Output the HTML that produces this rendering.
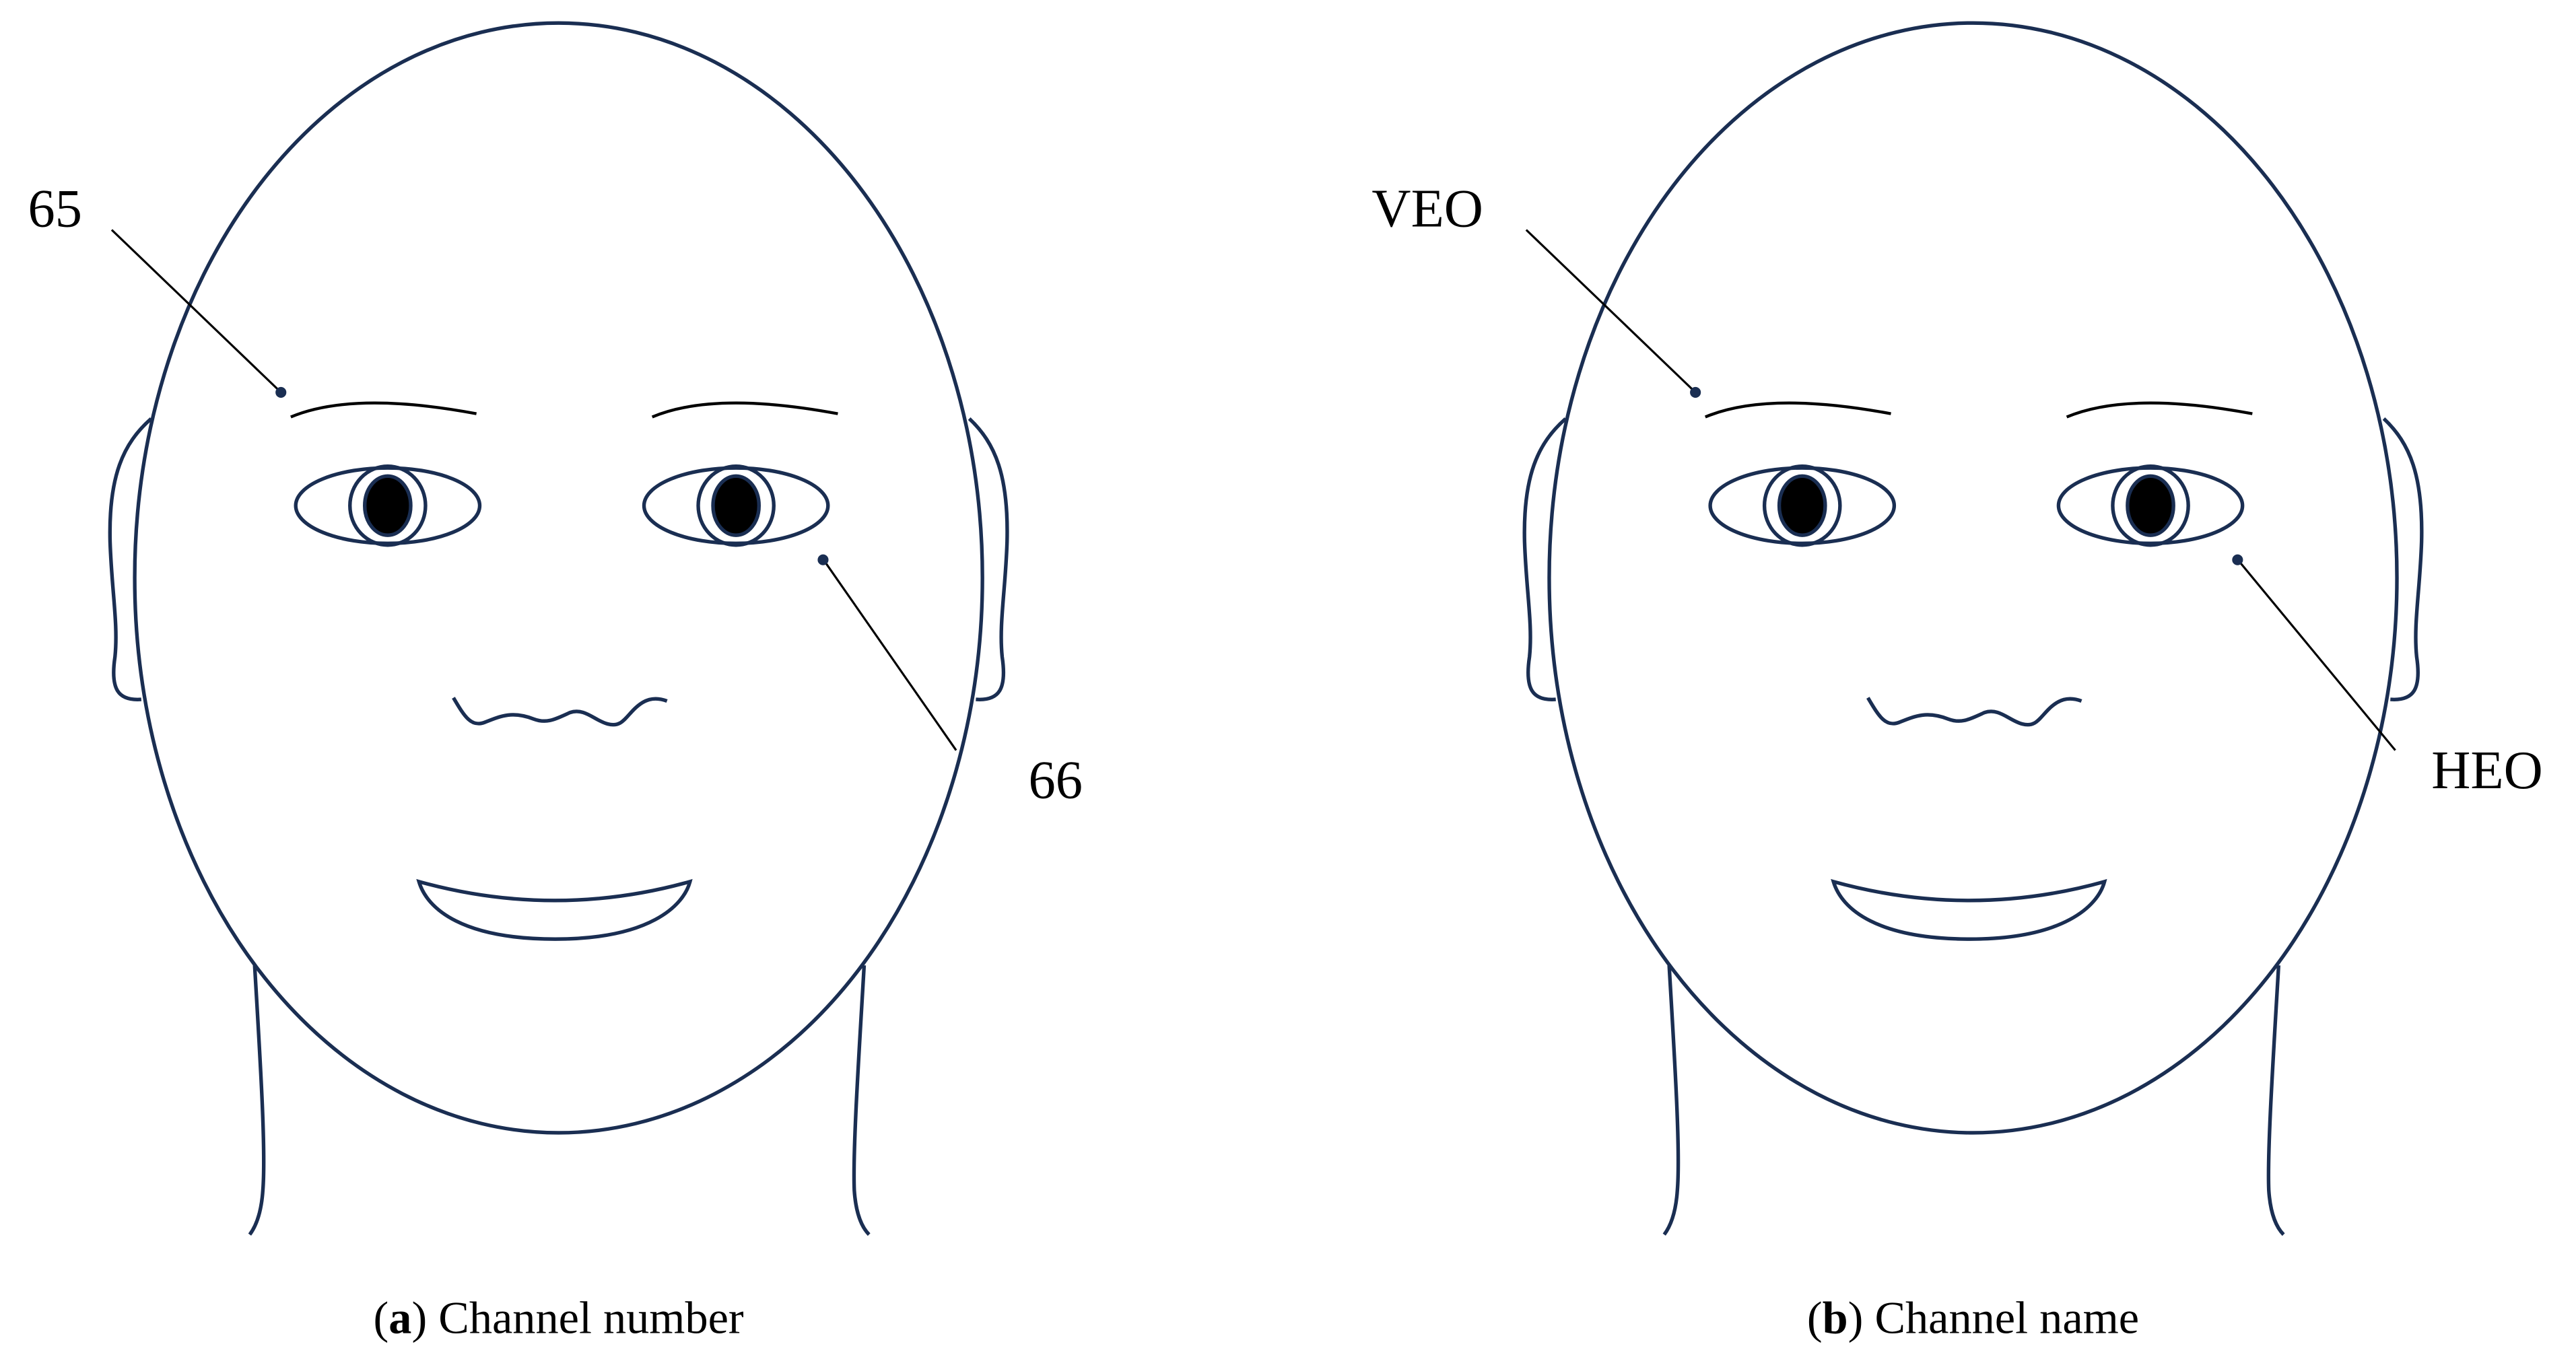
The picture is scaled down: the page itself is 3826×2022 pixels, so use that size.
<!DOCTYPE html>
<html><head><meta charset="utf-8"><style>
html,body{margin:0;padding:0;background:#fff;}
svg{display:block;}
text{font-family:"Liberation Serif",serif;fill:#000;}
</style></head><body>
<svg width="3826" height="2022" viewBox="0 0 1568 829" preserveAspectRatio="none" xmlns="http://www.w3.org/2000/svg">
<defs>
<g id="face" fill="none" stroke="#1a2e52" stroke-width="2.2">
  <path d="M92,255 C75,270 66,290 67,330 C68,360 72,380 70,400 C67,420 72,427 86,426"/>
  <path d="M590,255 C606,270 614,290 613,330 C612,360 608,380 610,400 C613,420 608,427 594,426"/>
  <path d="M155,588 C158,640 162,700 160,725 C159,740 155,748 152,752"/>
  <path d="M526,588 C523,640 519,700 520,725 C521,740 525,748 529,752"/>
  <ellipse cx="340" cy="352" rx="258" ry="338" fill="#fff"/>
  <path d="M177,254 Q215,238 290,252" stroke="#000" stroke-width="1.8"/>
  <path d="M397,254 Q435,238 510,252" stroke="#000" stroke-width="1.8"/>
  <ellipse cx="236" cy="308" rx="56" ry="23"/>
  <ellipse cx="236" cy="308" rx="23" ry="24"/>
  <ellipse cx="236" cy="308" rx="14" ry="18" fill="#000"/>
  <ellipse cx="448" cy="308" rx="56" ry="23"/>
  <ellipse cx="448" cy="308" rx="23" ry="24"/>
  <ellipse cx="448" cy="308" rx="14" ry="18" fill="#000"/>
  <path d="M276,425 C283,437 287,443 295,440 C305,436 312,433 325,438 C333,441 338,438 347,434 C356,431 362,439 370,441 C378,443 380,438 386,432 C392,426 398,424 406,427"/>
  <path d="M255,537 Q338,560 420,537 C416,552 395,572 338,572 C282,572 260,554 255,537 Z"/>
</g>
</defs>
<use href="#face"/>
<use href="#face" transform="translate(861,0)"/>
<line x1="68" y1="140" x2="170" y2="238" stroke="#000" stroke-width="1.3"/>
<circle cx="171" cy="239" r="3.3" fill="#1a2e52"/>
<text x="17" y="138" font-size="33">65</text>
<line x1="502" y1="342" x2="582" y2="457" stroke="#000" stroke-width="1.3"/>
<circle cx="501" cy="341" r="3.3" fill="#1a2e52"/>
<text x="626" y="486" font-size="33">66</text>
<text x="340" y="812" font-size="28" text-anchor="middle">(<tspan font-weight="bold">a</tspan>) Channel number</text>
<line x1="929" y1="140" x2="1031" y2="238" stroke="#000" stroke-width="1.3"/>
<circle cx="1032" cy="239" r="3.3" fill="#1a2e52"/>
<text x="835" y="138" font-size="33">VEO</text>
<line x1="1363" y1="342" x2="1458" y2="457" stroke="#000" stroke-width="1.3"/>
<circle cx="1362" cy="341" r="3.3" fill="#1a2e52"/>
<text x="1480" y="480" font-size="33">HEO</text>
<text x="1201" y="812" font-size="28" text-anchor="middle">(<tspan font-weight="bold">b</tspan>) Channel name</text>
</svg>
</body></html>
